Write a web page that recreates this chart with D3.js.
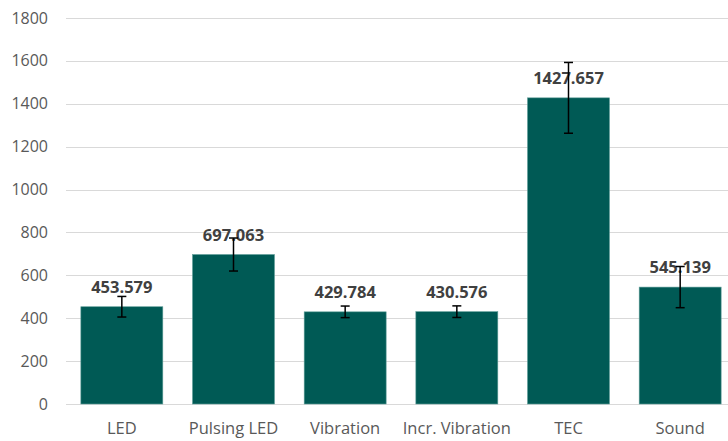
<!DOCTYPE html>
<html>
<head>
<meta charset="utf-8">
<script src="https://cdn.jsdelivr.net/npm/d3@7"></script>
<style>
  body { margin: 0; background: #fff; }
  svg text { font-family: "Open Sans", "Noto Sans", sans-serif; }
</style>
</head>
<body>
<div id="chart"></div>
<script>
const categories = ["LED", "Pulsing LED", "Vibration", "Incr. Vibration", "TEC", "Sound"];
const values = [453.579, 697.063, 429.784, 430.576, 1427.657, 545.139];
const errors = [48, 77, 27, 27, 165, 96];
const yTicks = [0, 200, 400, 600, 800, 1000, 1200, 1400, 1600, 1800];

const width = 728, height = 441;
const margin = {top: 18, right: -8, bottom: 37, left: 66};

let svg = d3.select("#chart")
  .append("svg")
  .attr("width", width)
  .attr("height", height);

let xScale = d3.scaleBand()
  .domain(categories)
  .range([margin.left, width - margin.right])
  .paddingInner(0.266)
  .paddingOuter(0.133);

let yScale = d3.scaleLinear()
  .domain([0, 1800])
  .range([height - margin.bottom, margin.top]);

// gridlines
svg.append("g")
  .selectAll("line")
  .data(yTicks)
  .enter()
  .append("line")
  .attr("x1", margin.left)
  .attr("x2", width)
  .attr("y1", d => Math.round(yScale(d)) + 0.5)
  .attr("y2", d => Math.round(yScale(d)) + 0.5)
  .attr("stroke", "#d9d9d9")
  .attr("stroke-width", 1);

// y tick labels
svg.append("g")
  .selectAll("text")
  .data(yTicks)
  .enter()
  .append("text")
  .attr("x", 48)
  .attr("y", d => yScale(d))
  .attr("dy", "0.35em")
  .attr("text-anchor", "end")
  .attr("fill", "#595959")
  .style("font-size", "16px")
  .text(d => d);

// bars
svg.append("g")
  .selectAll("rect")
  .data(values)
  .enter()
  .append("rect")
  .attr("x", (d, i) => xScale(categories[i]))
  .attr("y", d => yScale(d))
  .attr("width", xScale.bandwidth())
  .attr("height", d => yScale(0) - yScale(d))
  .attr("fill", "#005a55")
  .attr("stroke", "#5f9e99")
  .attr("stroke-width", 0.6);

// data labels
svg.append("g")
  .selectAll("text")
  .data(values)
  .enter()
  .append("text")
  .attr("x", (d, i) => xScale(categories[i]) + xScale.bandwidth() / 2)
  .attr("y", d => yScale(d) - 14)
  .attr("text-anchor", "middle")
  .attr("fill", "#404040")
  .style("font-size", "16.5px")
  .style("font-weight", "bold")
  .text(d => d.toFixed(3));

// error bars
let errG = svg.append("g").attr("stroke", "#000").attr("stroke-width", 1.5);
values.forEach((v, i) => {
  let cx = xScale(categories[i]) + xScale.bandwidth() / 2;
  let top = yScale(v + errors[i]);
  let bottom = yScale(v - errors[i]);
  errG.append("line").attr("x1", cx).attr("x2", cx).attr("y1", top).attr("y2", bottom);
  errG.append("line").attr("x1", cx - 4.5).attr("x2", cx + 4.5).attr("y1", top).attr("y2", top);
  errG.append("line").attr("x1", cx - 4.5).attr("x2", cx + 4.5).attr("y1", bottom).attr("y2", bottom);
});

// category labels
svg.append("g")
  .selectAll("text")
  .data(categories)
  .enter()
  .append("text")
  .attr("x", d => xScale(d) + xScale.bandwidth() / 2)
  .attr("y", 434)
  .attr("text-anchor", "middle")
  .attr("fill", "#595959")
  .style("font-size", "16.5px")
  .text(d => d);
</script>
</body>
</html>
